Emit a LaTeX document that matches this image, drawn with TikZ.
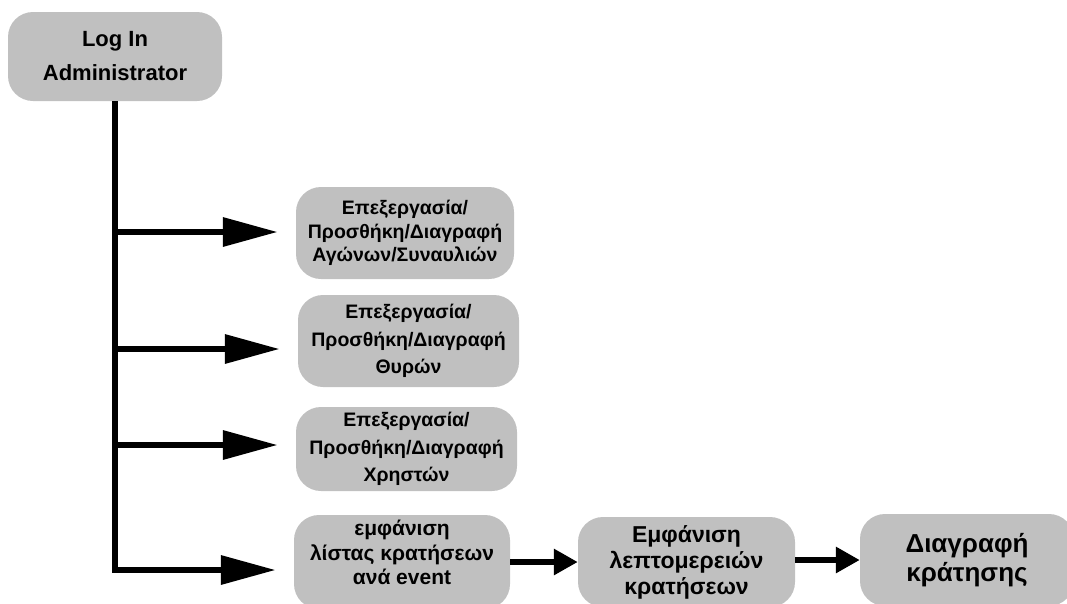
\documentclass[tikz,border=0pt]{standalone}
\usepackage{fontspec}
\setmainfont{Liberation Sans}
\usetikzlibrary{arrows.meta}
\definecolor{boxgray}{RGB}{192,192,192}

\def\trunkx{115}
\def\arrlw{6.5pt}

\begin{document}
\begin{tikzpicture}[x=1pt, y=-1pt, line join=miter,
                    box/.style={fill=boxgray, rounded corners=25pt, inner sep=0pt,
                                align=center},
                    branch/.style={line width=\arrlw, shorten >=18pt,
                                   -{Triangle[length=55pt,width=28pt]}},
                    nextstep/.style={line width=\arrlw,
                                     -{Triangle[length=24pt,width=25pt]}}
                   ]
        \useasboundingbox (0,0) rectangle (1067,603);
        \clip (0,0) rectangle (1067,603);

        \node[box, minimum width=214pt, minimum height=89pt,
              font=\fontsize{22}{34}\selectfont\bfseries] (login) at (115,56.5)
              {Log In\\Administrator};

        \node[box, minimum width=218pt, minimum height=92pt,
              font=\fontsize{19.5}{23.5}\selectfont\bfseries] (agones) at (405,233)
              {Επεξεργασία/\\Προσθήκη/Διαγραφή\\Αγώνων/Συναυλιών};
        \node[box, minimum width=221pt, minimum height=92pt,
              font=\fontsize{19.5}{27.5}\selectfont\bfseries] (thyres) at (408.5,341)
              {Επεξεργασία/\\Προσθήκη/Διαγραφή\\Θυρών};
        \node[box, minimum width=221pt, minimum height=84pt,
              font=\fontsize{19.5}{27.5}\selectfont\bfseries] (xristes) at (406.5,449)
              {Επεξεργασία/\\Προσθήκη/Διαγραφή\\Χρηστών};

        \node[box, minimum width=216pt, minimum height=94pt,
              font=\fontsize{21}{24.5}\selectfont\bfseries] (lista) at (402,562)
              {εμφάνιση\\λίστας κρατήσεων\\ανά event\\[-6pt]\mbox{}};
        \node[box, minimum width=217pt, minimum height=90pt,
              font=\fontsize{23}{26}\selectfont\bfseries] (details) at (686.5,562)
              {Εμφάνιση\\λεπτομερειών\\κρατήσεων};
        \node[box, minimum width=214pt, minimum height=92pt,
              font=\fontsize{26}{29}\selectfont\bfseries] (delete) at (967,560)
              {Διαγραφή\\κράτησης};

        % trunk and branches
        \draw[branch] (login.south) |- ([yshift=-8pt]lista.west);
        \foreach \y/\n in {232/agones, 349/thyres, 445/xristes}{
            \coordinate (b) at (\trunkx,\y);
            \draw[branch] (b) -- (b -| \n.west);
        }

        \draw[nextstep] (lista.east) -- (lista.east -| details.west);
        \draw[nextstep] (delete.west -| details.east) -- (delete.west);
\end{tikzpicture}
\end{document}
